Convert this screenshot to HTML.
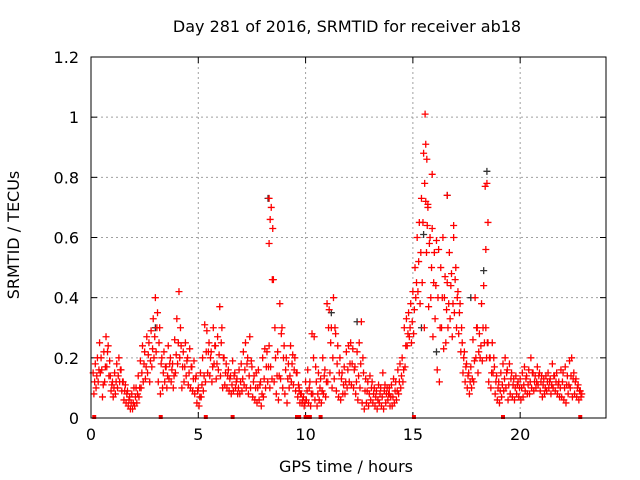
<!DOCTYPE html>
<html><head><meta charset="utf-8"><style>
body{margin:0;background:#fff}
svg{display:block;font-family:"DejaVu Sans","Liberation Sans",sans-serif}
</style></head><body>
<svg id="chart" width="640" height="480" viewBox="0 0 640 480">
<rect width="640" height="480" fill="#fff"/>
<text x="347" y="32" font-size="16" text-anchor="middle">Day 281 of 2016, SRMTID for receiver ab18</text>
<text x="346" y="472" font-size="16" text-anchor="middle">GPS time / hours</text>
<text transform="translate(19,235) rotate(-90)" font-size="16" text-anchor="middle">SRMTID / TECUs</text>
<g id="grid"></g><g id="axes"></g><g id="black"></g><g id="marks"></g>
<rect x="91" y="57" width="515" height="361" fill="none" stroke="#000"/>
</svg>
<script>
const xTicks=[0,5,10,15,20];
const yTicks=[0,0.2,0.4,0.6,0.8,1,1.2];
const yTickLabels=["0","0.2","0.4","0.6","0.8","1","1.2"];
const startHour=0.1, stepHour=0.1;
const valsA=[0.15,0.18,0.2,0.25,0.16,0.22,0.27,0.24,0.14,0.12,
0.15,0.18,0.2,0.16,0.12,0.11,0.09,0.07,0.08,0.1,
0.1,0.14,0.19,0.24,0.22,0.27,0.25,0.29,0.33,0.4,
0.35,0.3,0.2,0.22,0.17,0.24,0.2,0.18,0.26,0.33,
0.42,0.24,0.22,0.25,0.2,0.23,0.17,0.19,0.14,0.1,
0.15,0.2,0.31,0.29,0.25,0.22,0.3,0.24,0.27,0.37,
0.3,0.2,0.18,0.16,0.14,0.19,0.15,0.13,0.16,0.18,
0.22,0.25,0.2,0.27,0.17,0.14,0.15,0.16,0.12,0.2,
0.23,0.22,0.24,0.7,0.46,0.2,0.22,0.38,0.3,0.24,
0.2,0.18,0.24,0.21,0.2,0.15,0.1,0.08,0.07,0.12,
0.16,0.12,0.28,0.27,0.12,0.15,0.13,0.2,0.16,0.38,
0.36,0.3,0.4,0.28,0.24,0.2,0.15,0.17,0.22,0.24,
0.25,0.23,0.17,0.22,0.25,0.32,0.15,0.13,0.12,0.14,
0.12,0.1,0.09,0.11,0.1,0.15,0.11,0.1,0.1,0.11,
0.13,0.12,0.16,0.18,0.2,0.3,0.33,0.35,0.38,0.42,
0.5,0.6,0.65,0.73,0.88,0.72,0.7,0.6,0.63,0.55,
0.59,0.56,0.5,0.6,0.47,0.45,0.55,0.48,0.6,0.5,
0.42,0.38,0.25,0.22,0.18,0.15,0.17,0.26,0.4,0.3,
0.28,0.38,0.44,0.3,0.25,0.2,0.25,0.17,0.14,0.12,
0.15,0.18,0.2,0.16,0.18,0.15,0.13,0.14,0.12,0.13,
0.15,0.17,0.14,0.16,0.2,0.15,0.14,0.17,0.15,0.14,
0.13,0.14,0.15,0.13,0.18,0.14,0.15,0.12,0.16,0.15,
0.17,0.14,0.19,0.2,0.15,0.13,0.11,0.09];
const valsB=[0.08,0.1,0.12,0.15,0.07,0.12,0.17,0.14,0.09,0.07,
0.08,0.1,0.12,0.09,0.06,0.05,0.04,0.03,0.03,0.04,
0.05,0.07,0.1,0.12,0.13,0.15,0.12,0.17,0.2,0.22,
0.12,0.08,0.1,0.12,0.1,0.13,0.12,0.1,0.15,0.18,
0.2,0.1,0.12,0.14,0.11,0.1,0.09,0.08,0.05,0.04,
0.07,0.09,0.12,0.15,0.14,0.12,0.18,0.13,0.16,0.14,
0.1,0.11,0.1,0.09,0.08,0.09,0.1,0.08,0.08,0.09,
0.11,0.1,0.08,0.1,0.07,0.06,0.05,0.06,0.04,0.07,
0.1,0.12,0.1,0.13,0.12,0.08,0.06,0.13,0.1,0.08,
0.05,0.1,0.12,0.11,0.09,0.07,0.05,0.05,0.04,0.06,
0.05,0.04,0.08,0.06,0.04,0.06,0.05,0.08,0.07,0.12,
0.15,0.1,0.13,0.09,0.07,0.06,0.08,0.08,0.1,0.12,
0.11,0.1,0.08,0.06,0.1,0.05,0.03,0.05,0.04,0.06,
0.05,0.04,0.03,0.05,0.04,0.03,0.05,0.06,0.04,0.04,
0.05,0.06,0.08,0.1,0.12,0.17,0.24,0.27,0.25,0.28,
0.4,0.42,0.38,0.45,0.3,0.55,0.37,0.4,0.27,0.33,
0.16,0.12,0.3,0.23,0.25,0.3,0.33,0.27,0.35,0.3,
0.28,0.22,0.15,0.12,0.1,0.08,0.1,0.12,0.2,0.15,
0.2,0.19,0.25,0.2,0.12,0.1,0.15,0.08,0.06,0.05,
0.07,0.09,0.1,0.06,0.08,0.07,0.06,0.08,0.07,0.06,
0.07,0.09,0.08,0.08,0.1,0.09,0.1,0.11,0.09,0.07,
0.08,0.09,0.1,0.08,0.1,0.09,0.08,0.07,0.07,0.06,
0.05,0.08,0.1,0.07,0.08,0.07,0.06,0.07];
const valsC=[0.12,0.14,0.16,0.2,0.11,0.17,0.22,0.19,0.11,0.1,
0.12,0.14,0.16,0.12,0.09,0.08,0.06,0.05,0.05,0.07,
0.08,0.1,0.15,0.18,0.17,0.21,0.19,0.23,0.27,0.3,
0.25,0.18,0.15,0.17,0.14,0.18,0.16,0.14,0.21,0.25,
0.3,0.17,0.17,0.19,0.15,0.17,0.13,0.13,0.09,0.07,
0.11,0.14,0.22,0.22,0.2,0.17,0.24,0.18,0.21,0.25,
0.2,0.15,0.14,0.13,0.11,0.14,0.12,0.1,0.12,0.13,
0.16,0.18,0.14,0.19,0.12,0.1,0.1,0.11,0.08,0.13,
0.17,0.17,0.17,0.63,0.3,0.14,0.14,0.28,0.2,0.16,
0.13,0.14,0.18,0.16,0.15,0.11,0.08,0.06,0.05,0.09,
0.1,0.08,0.2,0.17,0.08,0.1,0.09,0.14,0.12,0.3,
0.25,0.2,0.3,0.18,0.15,0.13,0.11,0.12,0.16,0.18,
0.18,0.16,0.12,0.14,0.18,0.2,0.09,0.09,0.08,0.1,
0.08,0.07,0.06,0.08,0.07,0.09,0.08,0.08,0.07,0.07,
0.09,0.09,0.12,0.14,0.16,0.24,0.28,0.3,0.32,0.36,
0.45,0.52,0.55,0.65,1.01,0.64,0.58,0.5,0.45,0.44,
0.4,0.3,0.4,0.4,0.36,0.38,0.44,0.38,0.46,0.4,
0.35,0.3,0.2,0.17,0.14,0.12,0.13,0.19,0.3,0.22,
0.24,0.3,0.77,0.25,0.2,0.15,0.2,0.12,0.1,0.09,
0.11,0.13,0.15,0.11,0.13,0.11,0.1,0.11,0.1,0.1,
0.11,0.13,0.11,0.12,0.15,0.12,0.12,0.14,0.12,0.11,
0.1,0.12,0.12,0.11,0.14,0.12,0.11,0.1,0.12,0.1,
0.11,0.11,0.14,0.13,0.12,0.1,0.09,0.08];
const extraHours=[8.3,8.35,8.3,15.6,15.65,15.7,15.55,18.45,18.5,18.4,15.9,16.6,16.9,8.45,9.7,13.9];
const extraVals=[0.73,0.66,0.58,0.91,0.86,0.71,0.78,0.78,0.65,0.56,0.81,0.74,0.64,0.46,0.09,0.08];
const blackHours=[8.25,18.45,16.6,15.5,12.4,17.7,16.1,15.4,18.3,3.0,11.2];
const blackVals=[0.73,0.82,0.74,0.61,0.32,0.4,0.22,0.3,0.49,0.3,0.35];
const zeroHours=[0.15,3.25,5.35,6.6,9.6,9.7,10.0,10.1,10.2,10.7,15.05,19.2,22.8];

const NS="http://www.w3.org/2000/svg";
const X0=91,X1=606,Y0=418,Y1=57,XMAX=24,YMAX=1.2;
function xs(h){return X0+(X1-X0)*h/XMAX;}
function ys(v){return Y0-(Y0-Y1)*v/YMAX;}
function mk(tag,attrs,parent){const e=document.createElementNS(NS,tag);for(const k in attrs)e.setAttribute(k,attrs[k]);parent.appendChild(e);return e;}
const grid=document.getElementById('grid'),axes=document.getElementById('axes');
xTicks.forEach((t,i)=>{
  const x=xs(t);
  if(t>0){const g=mk('line',{x1:x,x2:x,y1:Y1,y2:Y0,stroke:'#a0a0a0','stroke-dasharray':'2,3'},grid);
  
  }
  mk('line',{x1:x,x2:x,y1:Y0,y2:Y0-6,stroke:'#000'},axes);
  mk('line',{x1:x,x2:x,y1:Y1,y2:Y1+6,stroke:'#000'},axes);
  const l=mk('text',{x:x,y:Y0+22,'font-size':16,'text-anchor':'middle'},axes);
  l.textContent=String(t);
  
  
});
yTicks.forEach((t,i)=>{
  const y=ys(t);
  if(t>0&&t<YMAX){const g=mk('line',{x1:X0,x2:X1,y1:y,y2:y,stroke:'#a0a0a0','stroke-dasharray':'2,3'},grid);
  
  }
  mk('line',{x1:X0,x2:X0+6,y1:y,y2:y,stroke:'#000'},axes);
  mk('line',{x1:X1,x2:X1-6,y1:y,y2:y,stroke:'#000'},axes);
  const l=mk('text',{x:X0-12,y:y+6,'font-size':16,'text-anchor':'end'},axes);
  l.textContent=yTickLabels[i];
  
  
});
function plus(h,v,color,parent){
  const x=xs(h),y=ys(v);
  const p=mk('path',{d:`M${x-3.5},${y}h7M${x},${y-3.5}v7`,stroke:color,'stroke-width':1.3,fill:'none'},parent);
  
  
}
const black=document.getElementById('black'),marks=document.getElementById('marks');
blackHours.forEach((h,i)=>plus(h,blackVals[i],'#333',black));
[[valsA,0],[valsB,0.035],[valsC,0.07]].forEach(([arr,off])=>{
  arr.forEach((v,i)=>{plus(startHour+stepHour*i+off,v,'#ff0000',marks);});
});
extraHours.forEach((h,i)=>plus(h,extraVals[i],'#ff0000',marks));
zeroHours.forEach(h=>{
  const r=mk('rect',{x:xs(h)-2,y:Y0-3,width:4,height:4,fill:'#ff0000'},marks);
  
  
});
</script>
</body></html>
